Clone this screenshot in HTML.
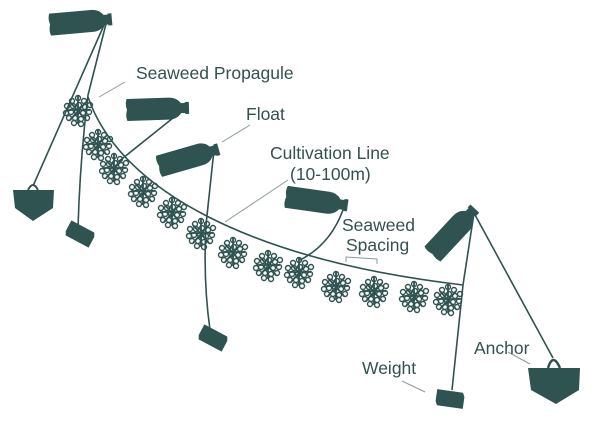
<!DOCTYPE html>
<html><head><meta charset="utf-8"><style>
html,body{margin:0;padding:0;background:#fff;}
svg{display:block}
text{font-family:"Liberation Sans",sans-serif;fill:#34514f;font-size:17.5px}
</style></head><body>
<svg width="600" height="423" viewBox="0 0 600 423" xmlns="http://www.w3.org/2000/svg">
<defs>
<g id="bot"><path d="M-30,-11 L12,-11 Q20,-11 24,-5 L28,-5 L28,-6 L32,-6 L32,6 L28,6 L28,5 L24,5 Q20,11 12,11 L-30,11 Q-32,6 -30,0 Q-32,-6 -30,-11 Z" fill="#2f5350"/></g>
<g id="sw" fill="none" stroke="#2f5350" stroke-width="1.4">
<circle cx="0" cy="-10" r="2.5"/><circle cx="-6" cy="-7" r="2.5"/><circle cx="6" cy="-7" r="2.5"/>
<circle cx="-11" cy="-2" r="2.5"/><circle cx="-5" cy="-2" r="2.5"/><circle cx="1" cy="-3" r="2.5"/><circle cx="7" cy="-1" r="2.5"/><circle cx="12" cy="-3" r="2.5"/>
<circle cx="-12" cy="5" r="2.5"/><circle cx="-7" cy="4" r="2.5"/><circle cx="-1" cy="4" r="2.5"/><circle cx="5" cy="5" r="2.5"/><circle cx="11" cy="4" r="2.5"/>
<circle cx="-9" cy="10" r="2.5"/><circle cx="-3" cy="10" r="2.5"/><circle cx="3" cy="11" r="2.5"/><circle cx="9" cy="10" r="2.5"/>
<circle cx="-4" cy="15" r="2.5"/><circle cx="3" cy="16" r="2.5"/>
<path d="M0,-13 L0,16 M-8,-6 L8,12 M8,-6 L-8,12 M-12,2 L12,2" stroke-width="1.8"/>
</g>
<g id="wt"><path d="M-14,-8 L12,-8 L14,-4 L14,8 L-12,8 L-14,4 Z" fill="#2f5350"/></g>
</defs>
<g stroke="#2f5350" stroke-width="1.6" fill="none">
<path d="M108,16 L33,186"/>
<path d="M108,16 L88,95 Q80,160 78,228"/>
<path d="M88,97 C120,190 250,260 463,285"/>
<path d="M183,110 L118,162"/>
<path d="M214,150 L206,225 Q203,280 210,330"/>
<path d="M343,210 Q330,245 300,260"/>
<path d="M474,213 L463,285 L452,390"/>
<path d="M474,213 L553,358"/>
</g>
<use href="#sw" x="78" y="108"/><use href="#sw" x="98" y="142"/><use href="#sw" x="114" y="166"/>
<use href="#sw" x="143" y="189"/><use href="#sw" x="172" y="210"/><use href="#sw" x="201" y="231"/>
<use href="#sw" x="233" y="250"/><use href="#sw" x="268" y="263"/><use href="#sw" x="299" y="270"/>
<use href="#sw" x="336" y="284"/><use href="#sw" x="374" y="289"/><use href="#sw" x="414" y="294"/>
<use href="#sw" x="448" y="297"/>
<g transform="translate(80,22) rotate(-5)"><use href="#bot"/></g>
<g transform="translate(157,109) rotate(-2)"><use href="#bot"/></g>
<g transform="translate(188,158) rotate(-16)"><use href="#bot"/></g>
<g transform="translate(316,201) rotate(8)"><use href="#bot"/></g>
<g transform="translate(453,232) rotate(-47)"><use href="#bot"/></g>
<g transform="translate(80,234) rotate(28)"><use href="#wt"/></g>
<g transform="translate(213,338) rotate(28)"><use href="#wt"/></g>
<g transform="translate(450,399) rotate(8)"><use href="#wt"/></g>
<path d="M13,190 L54,190 L53,208 L33,221 L15,208 Z" fill="#2f5350"/>
<path d="M28,190 Q33,180 38,190" stroke="#2f5350" stroke-width="2" fill="none"/>
<path d="M528,368 L580,368 L579,390 L556,404 L531,390 Z" fill="#2f5350"/>
<path d="M548,368 Q553,352 560,368" stroke="#2f5350" stroke-width="2.5" fill="none"/>
<g stroke="#8a9a98" stroke-width="1" fill="none">
<path d="M125,82 L99,97"/><path d="M250,125 L222,142"/><path d="M288,180 L225,222"/>
<path d="M346,262 L346,257 L377,259 L377,264"/>
<path d="M402,381 L425,392"/><path d="M508,352 L530,364"/>
</g>
<text x="136" y="79">Seaweed Propagule</text>
<text x="246" y="120">Float</text>
<text x="270" y="159">Cultivation Line</text>
<text x="290" y="180">(10-100m)</text>
<text x="342" y="231">Seaweed</text>
<text x="346" y="251">Spacing</text>
<text x="474" y="354">Anchor</text>
<text x="362" y="374">Weight</text>
</svg>
</body></html>
